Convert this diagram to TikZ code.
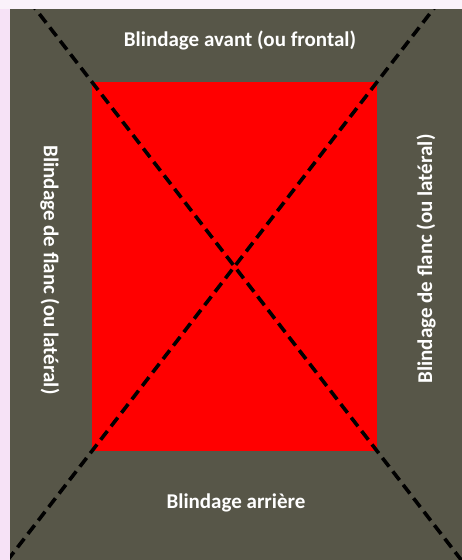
\documentclass[tikz,border=0pt]{standalone}
\usepackage{fontspec}
\setmainfont{Carlito}
\usetikzlibrary{calc}
\definecolor{ground}{RGB}{87,86,72}
\definecolor{edgepink}{RGB}{246,226,246}
\definecolor{toppink}{RGB}{250,242,250}
\definecolor{tankred}{RGB}{255,0,0}
\tikzset{
  label text/.style={text=white, font=\bfseries\fontsize{21}{24}\selectfont, inner sep=0pt},
  sector line/.style={black, line width=3.6pt, dash pattern=on 11pt off 6pt}
}
\begin{document}
\begin{tikzpicture}[x=1pt,y=-1pt]
  \useasboundingbox (0,0) rectangle (462,560);
  % margins
  \fill[toppink] (0,0) rectangle (462,9);
  \fill[edgepink] (0,9) rectangle (10,560);
  % photo ground
  \fill[ground] (10,9) rectangle (462,560);
  % tank body
  \node[fill=tankred, minimum width=285pt, minimum height=369pt, inner sep=0pt, draw=none]
    (tank) at (234.5,266.5) {};
  % sector lines
  \begin{scope}
    \clip (10,9) rectangle (462,560);
    \coordinate (d1a) at ($(tank.north west)!-0.22!(tank.south east)$);
    \coordinate (d1b) at ($(tank.north west)!1.32!(tank.south east)$);
    \coordinate (d2a) at ($(tank.north east)!-0.22!(tank.south west)$);
    \coordinate (d2b) at ($(tank.north east)!1.32!(tank.south west)$);
    \draw[sector line] (d1a) -- (d1b);
    \draw[sector line] (d2a) -- (d2b);
  \end{scope}
  % labels
  \node[label text, anchor=base] (front) at (240,46) {Blindage avant (ou frontal)};
  \node[label text, anchor=base] (rear) at (236,508) {Blindage arrière};
  \node[label text, rotate=-90] (left) at (50,270) {Blindage de flanc (ou latéral)};
  \node[label text, rotate=90] (right) at (426,259) {Blindage de flanc (ou latéral)};
\end{tikzpicture}
\end{document}
